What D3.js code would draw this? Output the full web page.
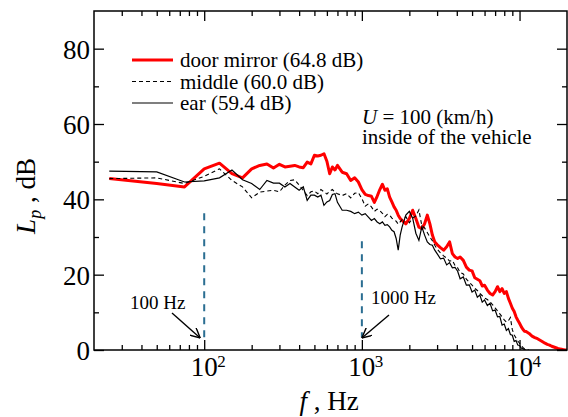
<!doctype html>
<html lang="en">
<head>
    <meta charset="UTF-8">
    <script src="https://cdnjs.cloudflare.com/ajax/libs/d3/7.0.0/d3.min.js"></script>
    <title>Lp spectrum</title>
    <style>
        body { margin: 0; background: #fff; }
        svg text { font-family: "Liberation Serif", "Times New Roman", serif; fill: #000; }
    </style>
</head>
<body>

<div id="viz_area"></div>

<script>
    // frequency grid (Hz) shared by the three spectra
    const freqHz = [25, 50, 75, 100, 125, 150, 175, 200, 225, 250, 275, 300, 325, 350, 375, 400, 425, 450, 475, 500,
        525, 550, 575, 600, 625, 650, 675, 700,
        750, 800, 850, 900, 950, 1000, 1050, 1100, 1150, 1200, 1250, 1300, 1350, 1400, 1450, 1500, 1550, 1600,
        1650, 1700, 1750, 1800,
        1900, 2000, 2100, 2200, 2300, 2400, 2500, 2600, 2700, 2800, 2900, 3000,
        3150, 3300, 3450, 3600, 3750, 3900, 4050, 4200,
        4400, 4600, 4800, 5000, 5200, 5400, 5600, 5800, 6000,
        6250, 6500, 6750, 7000, 7250, 7500, 7750, 8000, 8250, 8500, 8750, 9000, 9250, 9500, 9750, 10000,
        10250, 10500, 10750, 11000,
        11500, 12000, 12500, 13000, 13500, 14000, 14500, 15000, 15500, 16000, 16500, 17000, 17500, 18000,
        18500, 19000, 19500, 20000];

    // door mirror (dB)
    const doorMirror = [45.5, 44.2, 43.3, 48.1, 49.6, 46.8, 45.7, 48.1, 49.0, 49.4, 48.3, 49.3, 48.6, 48.8, 49.0, 48.6,
        48.4, 49.9, 49.4, 51.7, 51.5, 51.7, 52.1, 50.1, 46.8, 48.6, 47.8, 49.0,
        47.2, 46.8, 45.0, 45.7, 44.6, 42.6, 41.3, 41.0, 40.8, 39.2, 40.8, 42.6, 44.0, 42.4, 42.8, 40.6, 39.3, 38.0,
        37.1, 35.8, 34.9, 34.4,
        33.5, 34.9, 37.1, 34.9, 32.6, 32.2, 33.5, 35.8, 33.5, 30.5, 28.7, 28.0,
        27.2, 26.5, 27.4, 28.7, 25.6, 24.7, 24.3, 24.7,
        23.8, 22.0, 21.2, 21.0, 19.2, 18.8, 18.4, 17.0, 17.2,
        15.9, 15.0, 14.6, 15.5, 16.8, 15.5, 16.3, 15.0, 15.5, 13.7, 12.4, 11.1, 10.2, 8.8, 7.9, 7.1,
        6.2, 5.5, 5.0, 4.9,
        4.4, 3.7, 3.3, 3.0, 2.6, 2.2, 1.8, 1.5, 1.3, 1.0, 0.8, 0.6, 0.4, 0.3, 0.2, 0.1, 0.0, 0.0];

    // middle (dB)
    const middle = [45.5, 45.7, 44.2, 46.1, 48.1, 45.0, 43.3, 40.4, 41.9, 42.2, 42.4, 42.0, 43.8, 45.0, 45.2, 43.8,
        42.4, 41.0, 42.0, 42.2, 41.5, 42.6, 42.0, 41.4, 42.2, 42.6, 41.9, 41.5,
        41.0, 41.5, 40.4, 41.6, 41.8, 40.2, 38.2, 38.8, 38.0, 36.8, 37.4, 37.0, 36.3, 35.4, 36.0, 35.8, 35.0, 34.6,
        34.2, 33.4, 34.0, 34.6,
        35.4, 33.8, 35.0, 35.6, 37.2, 33.0, 32.4, 31.2, 30.0, 29.0, 27.8, 26.8,
        25.8, 25.0, 24.4, 23.6, 23.8, 22.4, 21.8, 20.6,
        20.2, 18.8, 18.0, 17.2, 16.4, 15.8, 15.0, 14.4, 13.8,
        13.4, 12.8, 12.0, 11.2, 10.4, 9.6, 8.8, 8.0, 7.4, 7.8, 8.6, 5.4, 4.0, 3.2, 2.4, 1.8,
        1.2, 0.7, 0.3, 0.1,
        0.0, null, null, null, null, null, null, null, null, null, null, null, null, null, null, null, null, null];

    // ear (dB)
    const ear = [47.5, 47.3, 44.6, 44.9, 45.7, 47.8, 45.2, 44.2, 42.6, 45.0, 44.3, 44.3, 43.3, 44.2, 43.3, 42.4,
        43.3, 39.7, 41.1, 41.1, 40.6, 41.1, 38.4, 39.3, 39.7, 41.3, 41.5, 39.2,
        37.1, 37.1, 36.8, 36.2, 36.6, 35.8, 36.2, 35.3, 34.4, 34.9, 34.0, 33.5, 34.0, 33.1, 33.3, 32.7, 31.8, 31.4,
        29.6, 26.5, 30.5, 32.7,
        35.8, 36.8, 35.0, 31.0, 29.1, 32.7, 30.5, 28.7, 28.0, 27.8, 26.5, 25.6,
        24.2, 24.4, 22.6, 23.2, 21.8, 21.9, 20.9, 18.9,
        19.4, 17.2, 17.3, 15.4, 15.9, 14.0, 14.6, 12.7, 13.3,
        11.8, 12.4, 10.4, 10.6, 8.8, 8.9, 6.6, 6.9, 5.2, 5.7, 4.1, 3.9, 2.3, 2.5, 1.3, 1.2,
        0.5, 0.4, 0.1, 0.0,
        null, null, null, null, null, null, null, null, null, null, null, null, null, null, null, null, null, null];

    const seriesNames = ["door mirror (64.8 dB)", "middle (60.0 dB)", "ear (59.4 dB)"];

    const yMajor = [0, 20, 40, 60, 80];
    const yMinor = [10, 30, 50, 70];
    const xMajor = [100, 1000, 10000];
    const xMinor = [30, 40, 50, 60, 70, 80, 90, 200, 300, 400, 500, 600, 700, 800, 900,
        2000, 3000, 4000, 5000, 6000, 7000, 8000, 9000];
    const xExponents = ["2", "3", "4"];

    // dashed markers at 100 Hz and 1000 Hz: [freq, top dB, bottom dB]
    const markers = [[100, 36.3, 3.4], [1000, 28.9, 3.4]];

    const SERIF = '"Liberation Serif", "Times New Roman", serif';
    const W = 568, H = 417;
    const margin = {top: 11, right: 1, bottom: 67, left: 94},
        width = W - margin.left - margin.right,
        height = H - margin.top - margin.bottom;

    const svg = d3.select('#viz_area')
        .append("svg")
        .attr("width", W)
        .attr("height", H)
        .style("font-family", SERIF);

    const g = svg.append("g")
        .attr("transform", "translate(" + margin.left + "," + margin.top + ")");

    const x = d3.scaleLog().domain([20, 20000]).range([0, width]);
    const y = d3.scaleLinear().domain([0, 90]).range([height, 0]);

    function txt(parent, size) {
        return parent.append("text")
            .attr("font-family", SERIF)
            .style("font-family", SERIF)
            .style("font-size", size + "px");
    }

    const defs = svg.append("defs");
    defs.append("clipPath").attr("id", "clip")
        .append("rect").attr("width", width).attr("height", height);

    defs.append("marker")
        .attr("id", "arrow")
        .attr("viewBox", "0 0 10 10")
        .attr("refX", 10).attr("refY", 5)
        .attr("markerWidth", 10).attr("markerHeight", 10)
        .attr("markerUnits", "userSpaceOnUse")
        .attr("orient", "auto")
        .append("path")
        .attr("d", "M0,0 L10,5 L0,10")
        .attr("fill", "none")
        .attr("stroke", "#000")
        .attr("stroke-width", 1.4);

    // spectra
    function series(vals) {
        return freqHz.map(function(f, i) { return {f: f, v: vals[i]}; });
    }
    const line = d3.line()
        .defined(function(d) { return d.v !== null; })
        .x(function(d) { return x(d.f); })
        .y(function(d) { return y(d.v); });

    const plot = g.append("g").attr("clip-path", "url(#clip)");

    plot.append("path").datum(series(doorMirror))
        .attr("d", line).attr("fill", "none")
        .attr("stroke", "#ff0000").attr("stroke-width", 3)
        .attr("stroke-linejoin", "round");
    plot.append("path").datum(series(middle))
        .attr("d", line).attr("fill", "none")
        .attr("stroke", "#000").attr("stroke-width", 1.1)
        .attr("stroke-dasharray", "4,3");
    plot.append("path").datum(series(ear))
        .attr("d", line).attr("fill", "none")
        .attr("stroke", "#000").attr("stroke-width", 1.2);

    // dashed vertical markers
    g.selectAll(".marker").data(markers).join("line")
        .attr("x1", function(d) { return x(d[0]); })
        .attr("x2", function(d) { return x(d[0]); })
        .attr("y1", function(d) { return y(d[1]); })
        .attr("y2", function(d) { return y(d[2]); })
        .attr("stroke", "#2b6e92")
        .attr("stroke-width", 2)
        .attr("stroke-dasharray", "7,6");

    // axes with inward ticks on all four sides
    function styleAxis(sel) {
        sel.select(".domain").remove();
        sel.attr("font-family", SERIF);
        sel.selectAll(".tick line").attr("stroke", "#000").attr("stroke-width", 1.3);
    }
    g.append("g").call(d3.axisLeft(y).tickValues(yMajor).tickSize(-10).tickPadding(4))
        .call(styleAxis)
        .selectAll("text")
        .style("font-family", SERIF)
        .style("font-size", "27px")
        .attr("dy", "0.35em");
    g.append("g").call(d3.axisLeft(y).tickValues(yMinor).tickSize(-5).tickFormat("")).call(styleAxis);
    g.append("g").attr("transform", "translate(" + width + ",0)")
        .call(d3.axisRight(y).tickValues(yMajor).tickSize(-10).tickFormat("")).call(styleAxis);
    g.append("g").attr("transform", "translate(" + width + ",0)")
        .call(d3.axisRight(y).tickValues(yMinor).tickSize(-5).tickFormat("")).call(styleAxis);
    g.append("g").attr("transform", "translate(0," + height + ")")
        .call(d3.axisBottom(x).tickValues(xMajor).tickSize(-10).tickFormat("")).call(styleAxis);
    g.append("g").attr("transform", "translate(0," + height + ")")
        .call(d3.axisBottom(x).tickValues(xMinor).tickSize(-5).tickFormat("")).call(styleAxis);
    g.append("g")
        .call(d3.axisTop(x).tickValues(xMajor).tickSize(-10).tickFormat("")).call(styleAxis);
    g.append("g")
        .call(d3.axisTop(x).tickValues(xMinor).tickSize(-5).tickFormat("")).call(styleAxis);

    g.append("rect")
        .attr("width", width).attr("height", height)
        .attr("fill", "none").attr("stroke", "#000").attr("stroke-width", 1.5);

    // x tick labels 10^n
    xMajor.forEach(function(d, i) {
        txt(g, 27)
            .attr("x", x(d)).attr("y", height + 26)
            .attr("text-anchor", "middle")
            .text("10");
        txt(g, 17)
            .attr("x", x(d) + 13).attr("y", height + 17)
            .text(xExponents[i]);
    });

    // axis titles
    const yt = txt(svg, 27)
        .attr("transform", "translate(35," + 196 + ") rotate(-90)")
        .attr("text-anchor", "middle");
    yt.append("tspan").style("font-style", "italic").text("L");
    yt.append("tspan").style("font-style", "italic").style("font-size", "18px").attr("dy", 6).text("p");
    yt.append("tspan").attr("dy", -6).text(" , dB");

    const xt = txt(svg, 27)
        .attr("x", 329).attr("y", 410)
        .attr("text-anchor", "middle");
    xt.append("tspan").style("font-style", "italic").text("f");
    xt.append("tspan").text(" , Hz");

    // legend
    const legendStyles = [
        {stroke: "#ff0000", w: 3, dash: null},
        {stroke: "#000", w: 1, dash: "4,3"},
        {stroke: "#000", w: 1.2, dash: null}
    ];
    const legend = svg.append("g").attr("transform", "translate(132,60)");
    seriesNames.forEach(function(name, i) {
        legend.append("line")
            .attr("x1", 0).attr("x2", 41)
            .attr("y1", i * 21.5).attr("y2", i * 21.5)
            .attr("stroke", legendStyles[i].stroke)
            .attr("stroke-width", legendStyles[i].w)
            .attr("stroke-dasharray", legendStyles[i].dash);
        txt(legend, 21)
            .attr("x", 48).attr("y", i * 21.5 + 7)
            .text(name);
    });

    // condition note
    const note = txt(svg, 21).attr("x", 362).attr("y", 124);
    note.append("tspan").style("font-style", "italic").text("U");
    note.append("tspan").text(" = 100 (km/h)");
    txt(svg, 21).attr("x", 362).attr("y", 144)
        .text("inside of the vehicle");

    // marker labels with arrows
    const tipY = y(3.2) + margin.top;
    txt(svg, 19).attr("x", 130).attr("y", 309).text("100 Hz");
    svg.append("line")
        .attr("x1", 172).attr("y1", 313)
        .attr("x2", margin.left + x(100) - 4).attr("y2", tipY)
        .attr("stroke", "#000").attr("stroke-width", 1.4)
        .attr("marker-end", "url(#arrow)");
    txt(svg, 19).attr("x", 371).attr("y", 304).text("1000 Hz");
    svg.append("line")
        .attr("x1", 389).attr("y1", 315)
        .attr("x2", margin.left + x(1000)).attr("y2", tipY)
        .attr("stroke", "#000").attr("stroke-width", 1.4)
        .attr("marker-end", "url(#arrow)");
</script>
</body>
</html>
